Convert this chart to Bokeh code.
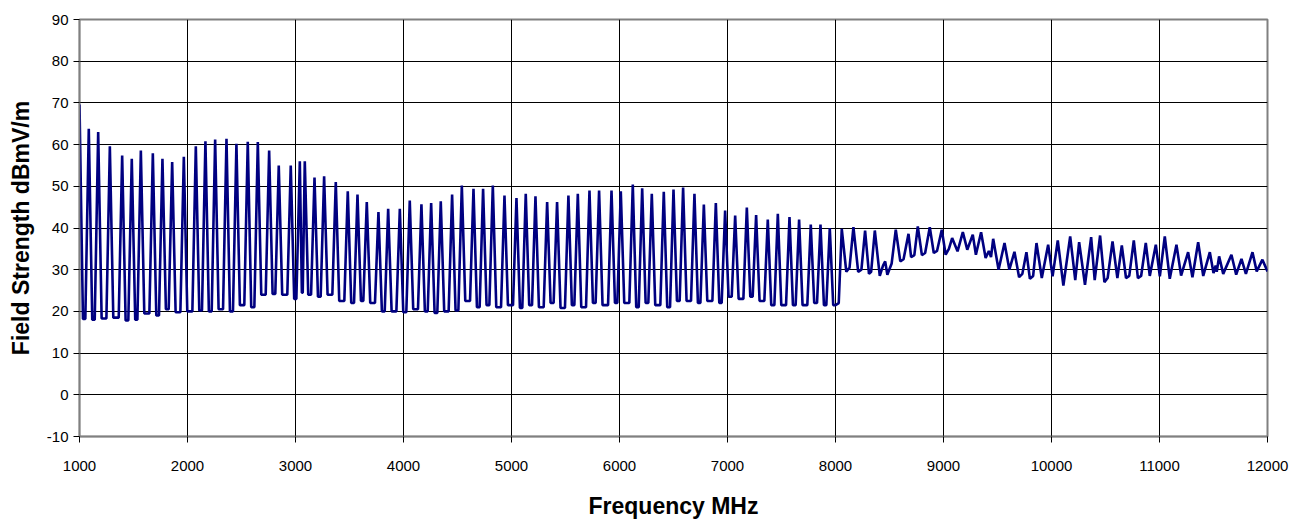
from bokeh.plotting import figure
from bokeh.models import FixedTicker
from bokeh.embed import file_html
from bokeh.resources import INLINE

# Region 1000-8000 MHz: spike peaks and the floor level after each spike
peak_freq = [1000, 1086, 1173, 1281, 1395, 1484, 1568, 1679, 1768, 1858, 1966,
             2077, 2166, 2256, 2361, 2453, 2558, 2651, 2756, 2845, 2956,
             3040, 3086, 3176, 3265, 3373, 3484, 3574, 3660, 3768, 3858, 3966,
             4058, 4166, 4256, 4345, 4450, 4540, 4648, 4737, 4827, 4935,
             5046, 5132, 5222, 5330, 5422, 5527, 5614, 5722, 5811, 5926,
             6012, 6123, 6210, 6299, 6410, 6500, 6589, 6694, 6781, 6892, 6978,
             7071, 7179, 7265, 7373, 7466, 7574, 7663, 7771, 7861, 7947]
peak_db = [69.6, 63.8, 63.0, 59.6, 57.4, 56.6, 58.6, 57.9, 56.6, 55.8, 57.1,
           59.6, 60.8, 61.2, 61.4, 60.2, 60.7, 60.6, 58.6, 55.0, 55.0,
           56.0, 56.0, 52.1, 52.4, 51.0, 48.8, 48.0, 46.2, 43.8, 44.6, 44.6,
           46.6, 45.7, 46.0, 46.4, 48.0, 50.2, 49.4, 49.4, 50.2, 47.8,
           47.2, 48.2, 47.6, 46.2, 46.2, 47.8, 48.2, 49.0, 49.0, 49.0,
           48.8, 50.4, 49.5, 48.2, 48.7, 49.2, 49.7, 48.2, 45.6, 46.0, 44.2,
           43.0, 44.9, 43.1, 42.0, 43.4, 42.6, 42.0, 40.8, 40.8, 40.0]
floor_db = [18.2, 18.0, 18.3, 18.5, 17.8, 18.0, 19.5, 19.0, 20.5, 19.8, 20.0,
            20.2, 20.0, 20.5, 20.0, 21.5, 21.0, 24.0, 24.2, 24.0, 23.0,
            24.5, 24.0, 23.5, 24.0, 22.5, 22.0, 22.5, 22.0, 20.0, 20.0, 19.8,
            20.5, 20.0, 19.6, 20.0, 20.2, 22.5, 21.0, 21.5, 21.0, 21.5,
            20.8, 21.5, 21.0, 22.0, 20.8, 21.5, 21.0, 22.0, 21.5, 22.0,
            22.0, 21.0, 22.0, 21.5, 21.0, 22.5, 22.5, 22.0, 22.5, 22.0, 23.5,
            23.0, 23.5, 22.5, 21.5, 21.5, 21.5, 21.5, 22.0, 21.5, 21.5]

# Region 8000-12000 MHz: trace read point by point
trace_freq = [8000, 8030, 8058, 8100, 8130, 8166, 8210, 8240, 8274, 8310, 8330, 8364,
              8410, 8440, 8460, 8480, 8520, 8558, 8600, 8630, 8676, 8700, 8730, 8762,
              8800, 8830, 8873, 8910, 8940, 8984, 9020, 9050, 9080, 9130, 9179, 9220,
              9271, 9300, 9348, 9390, 9420, 9440, 9460, 9510, 9565, 9610, 9657, 9700,
              9730, 9768, 9800, 9830, 9861, 9910, 9969, 10010, 10058, 10110, 10173,
              10220, 10256, 10310, 10367, 10400, 10450, 10490, 10520, 10565, 10610,
              10651, 10690, 10720, 10762, 10800, 10830, 10873, 10910, 10966, 11003,
              11049, 11095, 11157, 11200, 11265, 11305, 11358, 11405, 11466, 11500,
              11520, 11530, 11552, 11590, 11666, 11710, 11759, 11800, 11861, 11900,
              11953, 12000]
trace_db = [21.5, 22.0, 39.8, 29.5, 30.5, 40.2, 29.5, 30.0, 39.4, 29.0, 29.5, 39.4,
            28.5, 31.0, 32.0, 28.8, 31.5, 39.6, 32.0, 32.5, 38.6, 33.0, 33.5, 40.4,
            33.5, 34.0, 40.2, 34.0, 34.5, 39.6, 33.6, 35.0, 37.6, 34.4, 39.0, 34.8,
            38.4, 33.6, 39.0, 32.8, 34.5, 33.0, 37.4, 30.0, 36.4, 30.0, 34.3, 28.2,
            29.0, 34.2, 27.8, 28.5, 36.4, 28.0, 36.0, 28.4, 37.0, 26.2, 38.0,
            27.5, 36.6, 26.4, 37.8, 27.5, 38.2, 27.0, 28.0, 36.8, 28.0,
            35.8, 28.0, 28.5, 37.0, 28.0, 28.5, 36.4, 28.5, 36.0, 28.4,
            38.0, 27.8, 36.0, 28.6, 34.2, 28.2, 36.6, 28.5, 34.2, 29.2,
            31.0, 29.5, 33.2, 29.0, 33.6, 28.8, 32.6, 29.0, 34.2, 29.6,
            32.4, 29.6]

x_ticks = list(range(1000, 12001, 1000))
y_ticks = list(range(-10, 91, 10))

# build the spike trace: each spike rises from the previous floor and falls to its own floor
HW = 32
xs, ys = [], []
for i, (f, pk, fl) in enumerate(zip(peak_freq, peak_db, floor_db)):
    if i > 0:
        gap = f - peak_freq[i - 1]
        xs.append(f - min(HW, gap / 2 - 4)); ys.append(floor_db[i - 1])
    xs.append(f); ys.append(pk)
    if i + 1 < len(peak_freq):
        gap = peak_freq[i + 1] - f
        xs.append(f + min(HW, gap / 2 - 4)); ys.append(fl)
    else:
        xs.append(f + HW); ys.append(fl)
xs += trace_freq
ys += trace_db

p = figure(width=1290, height=521, output_backend="svg", toolbar_location=None,
           x_range=(1000, 12000), y_range=(-10, 90),
           min_border_left=79, min_border_right=23, min_border_top=19, min_border_bottom=84)
p.background_fill_color = "white"
p.border_fill_color = "white"
p.outline_line_color = "#808080"
p.outline_line_width = 2

p.line(xs, ys, line_color="#000080", line_width=2.6)

for ax in (p.xaxis[0], p.yaxis[0]):
    ax.major_label_text_font = "Liberation Sans"
    ax.major_label_text_font_size = "15px"
    ax.major_label_text_color = "black"
    ax.axis_label_text_font = "Liberation Sans"
    ax.axis_label_text_font_style = "bold"
    ax.axis_label_text_font_size = "23px"
    ax.axis_label_text_color = "black"
    ax.axis_line_color = "#808080"
    ax.axis_line_width = 1.5
    ax.major_tick_line_color = "black"
    ax.major_tick_out = 6
    ax.major_tick_in = 0
    ax.minor_tick_line_color = None

p.xaxis.ticker = FixedTicker(ticks=x_ticks)
p.yaxis.ticker = FixedTicker(ticks=y_ticks)
p.yaxis.major_label_overrides = {t: str(t) for t in y_ticks}
p.xaxis.axis_label = "Frequency MHz"
p.yaxis.axis_label = "Field Strength dBmV/m"
p.xaxis.major_label_standoff = 18
p.xaxis.axis_label_standoff = 19
p.yaxis.major_label_standoff = 5
p.yaxis.axis_label_standoff = 10

p.xgrid.ticker = FixedTicker(ticks=x_ticks)
p.ygrid.ticker = FixedTicker(ticks=y_ticks)
p.grid.grid_line_color = "black"
p.grid.grid_line_width = 1
p.grid.grid_line_alpha = 1.0

open("out.html", "w").write(file_html(p, INLINE))
